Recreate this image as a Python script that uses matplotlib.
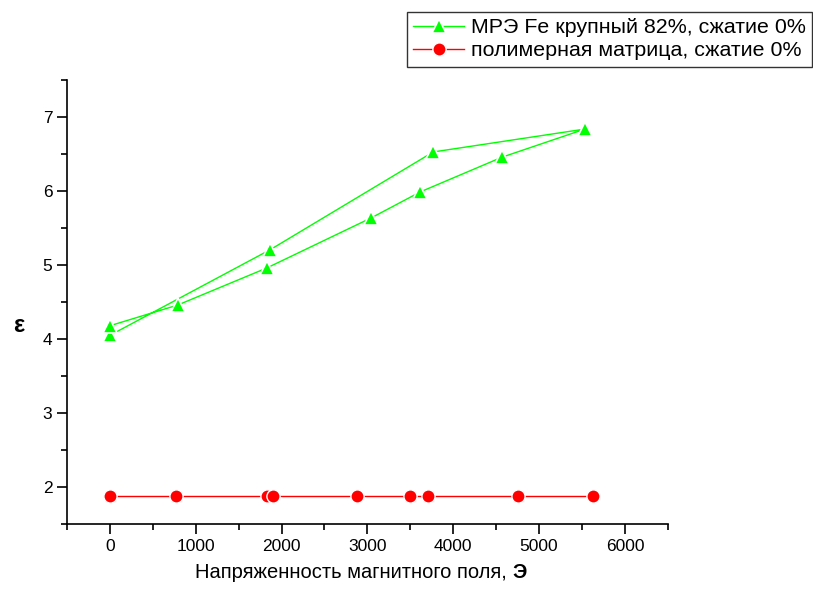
import numpy as np
import matplotlib.pyplot as plt
from matplotlib.ticker import MultipleLocator

plt.rcParams['font.family'] = ['Liberation Sans', 'DejaVu Sans']

# МРЭ: подъём поля, затем спад (петля)
h_mre = [0, 1870, 3767, 5535, 4570, 3616, 3047, 1826, 790, 0]
eps_mre = [4.05, 5.21, 6.53, 6.84, 6.46, 5.99, 5.64, 4.96, 4.46, 4.18]

# полимерная матрица
h_poly = [0, 774, 1828, 1897, 2878, 3500, 3702, 4752, 5632]
eps_poly = [1.88, 1.88, 1.88, 1.88, 1.88, 1.88, 1.88, 1.88, 1.88]

label_mre = "МРЭ Fe крупный 82%, сжатие 0%"
label_poly = "полимерная матрица, сжатие 0%"

fig = plt.figure(figsize=(8.13, 5.9), dpi=100)
ax = fig.add_axes([0.0824, 0.112, 0.739, 0.752])

ax.plot(h_mre, eps_mre, color='#00ff00', lw=1, marker='^', ms=10,
        mec='white', mew=1.2, label=label_mre)
ax.plot(h_poly, eps_poly, color='#ff0000', lw=1, marker='o', ms=9.5,
        mec='white', mew=1.0, label=label_poly)

ax.set_xlim(-500, 6500)
ax.set_ylim(1.5, 7.5)
ax.xaxis.set_major_locator(MultipleLocator(1000))
ax.xaxis.set_minor_locator(MultipleLocator(500))
ax.yaxis.set_major_locator(MultipleLocator(1))
ax.yaxis.set_minor_locator(MultipleLocator(0.5))
ax.tick_params(which='both', direction='out', width=1.2, labelsize=12.5)
ax.tick_params(which='major', length=7)
ax.tick_params(which='minor', length=4)
for s in ['top', 'right']:
    ax.spines[s].set_visible(False)
for s in ['left', 'bottom']:
    ax.spines[s].set_linewidth(1.2)

ax.set_ylabel('ε', fontsize=17, fontweight='bold', rotation=0,
              va='center', ha='center')
ax.yaxis.set_label_coords(-0.081, 0.448)

# подпись оси X: обычный текст + жирная «Э»
t1 = fig.text(0.24, 0.02, "Напряженность магнитного поля, ", fontsize=14.5,
              ha='left', va='baseline')
fig.canvas.draw()
bb = t1.get_window_extent()
fig.text(bb.x1 / fig.bbox.width, 0.02, "Э", fontsize=14.5, fontweight='bold',
         ha='left', va='baseline')

leg = fig.legend(loc='upper right', bbox_to_anchor=(0.999, 0.98), fontsize=15.4,
                 frameon=True, fancybox=False, edgecolor='black',
                 handlelength=2.4, handletextpad=0.3, borderpad=0.3,
                 labelspacing=0.2, borderaxespad=0.0)
leg.get_frame().set_linewidth(1.0)

fig.savefig('out.png', dpi=100)
